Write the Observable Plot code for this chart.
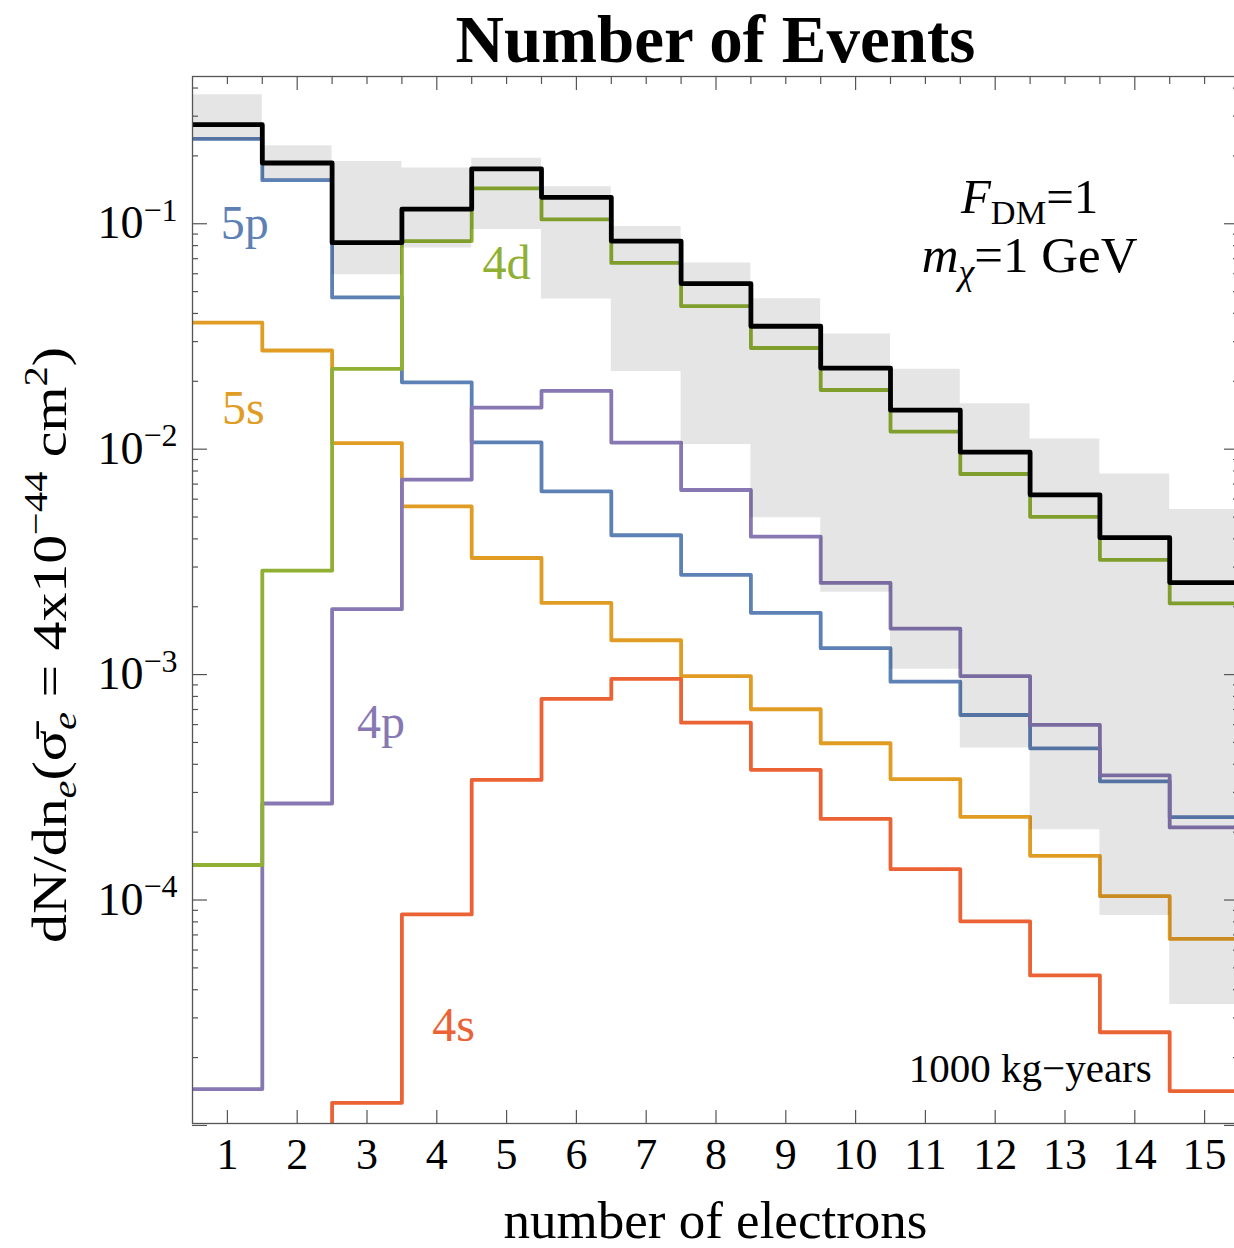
<!DOCTYPE html>
<html><head><meta charset="utf-8">
<script src="https://cdn.jsdelivr.net/npm/d3@7"></script>
<script src="https://cdn.jsdelivr.net/npm/@observablehq/plot@0.6"></script>
<style>
html,body{margin:0;padding:0;background:#fff;overflow:hidden;}
#wrap{position:relative;width:1234px;height:1248px;overflow:hidden;background:#fff;}
#title{position:absolute;top:0;left:192px;width:1047px;height:76px;text-align:center;font-family:"Liberation Serif",serif;font-weight:bold;font-size:67px;line-height:78px;color:#000;white-space:nowrap;}
#chart{position:absolute;left:0;top:70px;width:1240px;}
#chart svg{max-width:none !important;}
</style></head><body>
<div id="wrap"><div id="title">Number of Events</div><div id="chart"></div></div>
<script>
// ---- data ----
const bins = [1,2,3,4,5,6,7,8,9,10,11,12,13,14,15];
const total = [0.275,0.186,0.0824,0.116,0.175,0.131,0.0838,0.0543,0.0351,0.0229,0.0149,0.0097,0.00627,0.00405,0.00256];
const shell4d = [1.43e-4,0.00289,0.0227,0.0838,0.1436,0.1045,0.067,0.0431,0.0281,0.0183,0.01197,0.00776,0.00501,0.00323,0.00207];
const shell5p = [0.238,0.156,0.0471,0.0198,0.01072,0.0065,0.00415,0.00277,0.00188,0.00131,9.3e-4,6.62e-4,4.71e-4,3.36e-4,2.33e-4];
const shell5s = [0.0364,0.0274,0.01064,0.00557,0.00329,0.00208,0.00142,9.84e-4,7.02e-4,4.96e-4,3.44e-4,2.34e-4,1.57e-4,1.04e-4,6.72e-5];
const shell4p = [1.45e-5,2.68e-4,0.00195,0.00733,0.0153,0.01815,0.0107,0.00659,0.00409,0.00255,0.0016,9.84e-4,5.98e-4,3.57e-4,2.10e-4];
const shell4s = [1e-6,1e-6,1.26e-5,8.63e-5,3.41e-4,7.8e-4,9.57e-4,6.12e-4,3.78e-4,2.29e-4,1.37e-4,8.04e-5,4.63e-5,2.59e-5,1.42e-5];
const bandLow  = [0.233,0.157,0.0594,0.078,0.0944,0.0464,0.0221,0.0105,0.00496,0.00232,0.001057,4.73e-4,2.05e-4,8.53e-5,3.44e-5];
const bandHigh = [0.373,0.222,0.189,0.1766,0.195,0.146,0.0973,0.067,0.0465,0.0324,0.0226,0.0159,0.0111,0.00776,0.0054];

const xTicks = [1,2,3,4,5,6,7,8,9,10,11,12,13,14,15];
const yTickValues = [1e-1,1e-2,1e-3,1e-4];
const yTickExp = ["\u22121","\u22122","\u22123","\u22124"];

const shellNames = ["5s","5p","4s","4p","4d"];
const shellColors = ["#E19C24","#5E81B5","#EB6235","#8778B3","#8FB032"];
const shellValues = [shell5s,shell5p,shell4s,shell4p,shell4d];

const labelText = ["5p","4d","5s","4p","4s"];
const labelX = [1.25,5.0,1.23,3.2,4.24];
const labelY = [0.1,0.0665,0.0151,6.12e-4,2.77e-5];
const labelColor = ["#5E81B5","#8FB032","#E19C24","#8778B3","#EB6235"];

// ---- helpers ----
function steps(vals){
  const pts = vals.map((v,i)=>({x: bins[i]-0.5, y: v}));
  pts.push({x: bins[bins.length-1]+0.5, y: vals[vals.length-1]});
  return pts;
}
const bandPts = bandLow.map((lo,i)=>({x: bins[i]-0.5, lo, hi: bandHigh[i]}));
bandPts.push({x: bins[bins.length-1]+0.5, lo: bandLow[bandLow.length-1], hi: bandHigh[bandHigh.length-1]});

const yDomain = [1.02e-5, 0.45];
const yMinor = [];
for (let e=-6;e<=0;e++) for (let m=2;m<=9;m++){const v=m*Math.pow(10,e); if(v>yDomain[0]&&v<yDomain[1]) yMinor.push(v);}
const yMajor = [1e-5,1e-4,1e-3,1e-2,1e-1].filter(v=>v>=yDomain[0]*0.98&&v<=yDomain[1]);
const topMajor = [2,4,6,8,10,12,14];
const topMinor = d3.range(1,15.51,0.5).filter(v=>!topMajor.includes(v));

const W=1240, H=1178, mL=192, mR=1, mT=6, mB=125;
const FW = W-mL-mR, FH = H-mT-mB;
const tickColor = "#555";
const serif = "'Liberation Serif', 'Times New Roman', serif";

const marks = [];
shellValues.forEach((vals,k)=>{
  marks.push(Plot.line(steps(vals), {x:"x", y:"y", curve:"step-after", stroke: shellColors[k], strokeWidth: 3.8, clip: true}));
});
marks.push(Plot.areaY(bandPts, {x:"x", y1:"lo", y2:"hi", curve:"step-after", fill:"black", fillOpacity:0.1}));
marks.push(Plot.line(steps(total), {x:"x", y:"y", curve:"step-after", stroke:"black", strokeWidth:4.8, clip:true}));
// frame ticks
marks.push(Plot.tickX(xTicks, {x: d=>d, stroke: tickColor, strokeWidth:1.2, insetTop: FH-13}));
marks.push(Plot.tickX(topMajor, {x: d=>d, stroke: tickColor, strokeWidth:1.2, insetBottom: FH-14}));
marks.push(Plot.tickX(topMinor, {x: d=>d, stroke: tickColor, strokeWidth:1.2, insetBottom: FH-8}));
marks.push(Plot.tickY(yMajor, {y: d=>d, stroke: tickColor, strokeWidth:1.2, insetRight: FW-15}));
marks.push(Plot.tickY(yMinor, {y: d=>d, stroke: tickColor, strokeWidth:1.2, insetRight: FW-6}));
marks.push(Plot.tickY(yMajor, {y: d=>d, stroke: tickColor, strokeWidth:1.2, insetLeft: FW-15}));
marks.push(Plot.tickY(yMinor, {y: d=>d, stroke: tickColor, strokeWidth:1.2, insetLeft: FW-6}));
marks.push(Plot.frame({stroke:"#555", strokeWidth:1.3}));
// y tick labels 10^n
marks.push(Plot.text(yTickValues, {y: d=>d, frameAnchor:"left", text: ()=>"10", textAnchor:"end", lineAnchor:"middle", dx:-49, fontSize:46, fill:"#000"}));
marks.push(Plot.text(yTickValues, {y: d=>d, frameAnchor:"left", text: (d,i)=>yTickExp[i], textAnchor:"start", lineAnchor:"middle", dx:-49, dy:-13, fontSize:32, fill:"#000"}));
// shell labels
marks.push(Plot.text(labelText, {x:(d,i)=>labelX[i], y:(d,i)=>labelY[i], text:d=>d, fill:(d,i)=>labelColor[i], fontSize:48, textAnchor:"middle", lineAnchor:"middle"}));
// x tick labels
marks.push(Plot.axisX(xTicks, {tickSize:0, tickPadding:14, fontSize:44, label:null, fill:"#000"}));

const plot = Plot.plot({
  width: W, height: H, marginLeft: mL, marginRight: mR, marginTop: mT, marginBottom: mB,
  style: {fontFamily: serif, background: "transparent", overflow:"visible", maxWidth:"none"},
  x: {domain:[0.5,15.5], axis:null},
  y: {type:"log", domain:yDomain, axis:null},
  color: {domain: shellNames, range: shellColors},
  marks
});
plot.style.maxWidth = "none";
document.getElementById("chart").appendChild(plot);

// ---- rich text annotations ----
const svg = d3.select(plot);
const sx = plot.scale("x"), sy = plot.scale("y");
function rich(parent, parts, size){
  parts.forEach(p=>{
    const t = parent.append("tspan").text(p.t);
    const fs = p.size ? p.size*size : size;
    t.attr("font-size", fs);
    if (p.italic) t.attr("font-style","italic");
    if (p.dy) t.attr("dy", p.dy*size);
  });
}
// F_DM = 1
const annX = 12.5;
const t1 = svg.append("text").attr("x", sx.apply(annX)).attr("y", sy.apply(0.129)+15).attr("text-anchor","middle").attr("font-family",serif).attr("fill","#000");
rich(t1, [{t:"F",italic:true},{t:"DM",size:0.7,dy:0.22},{t:"=1",dy:-0.22}], 49);
const t2 = svg.append("text").attr("x", sx.apply(annX)).attr("y", sy.apply(0.0706)+15).attr("text-anchor","middle").attr("font-family",serif).attr("fill","#000");
rich(t2, [{t:"m",italic:true},{t:"\u03C7",size:0.7,italic:true,dy:0.22},{t:"=1 GeV",dy:-0.22}], 51);
svg.append("text").attr("x", sx.apply(12.51)).attr("y", sy.apply(1.79e-5)+14).attr("text-anchor","middle").attr("font-family",serif).attr("font-size",41).attr("fill","#000").text("1000 kg\u2212years");
// x label
svg.append("text").attr("x", mL+FW/2).attr("y", H-10).attr("text-anchor","middle").attr("font-family",serif).attr("font-size",53).attr("fill","#000").text("number of electrons");
// y label
const yl = svg.append("text").attr("transform",`translate(66,${575}) rotate(-90)`).attr("text-anchor","middle").attr("font-family",serif).attr("fill","#000")
  .attr("textLength", 596).attr("lengthAdjust","spacingAndGlyphs");
rich(yl, [
  {t:"dN/dn"},{t:"e",italic:true,size:0.7,dy:0.2},{t:"(",dy:-0.2},{t:"\u03C3\u0304"},{t:"e",italic:true,size:0.7,dy:0.2},
  {t:" = 4x10",dy:-0.2},{t:"\u221244",size:0.7,dy:-0.4},{t:" cm",dy:0.4},{t:"2",size:0.7,dy:-0.4},{t:")",dy:0.4}
], 48);
</script>
</body></html>
